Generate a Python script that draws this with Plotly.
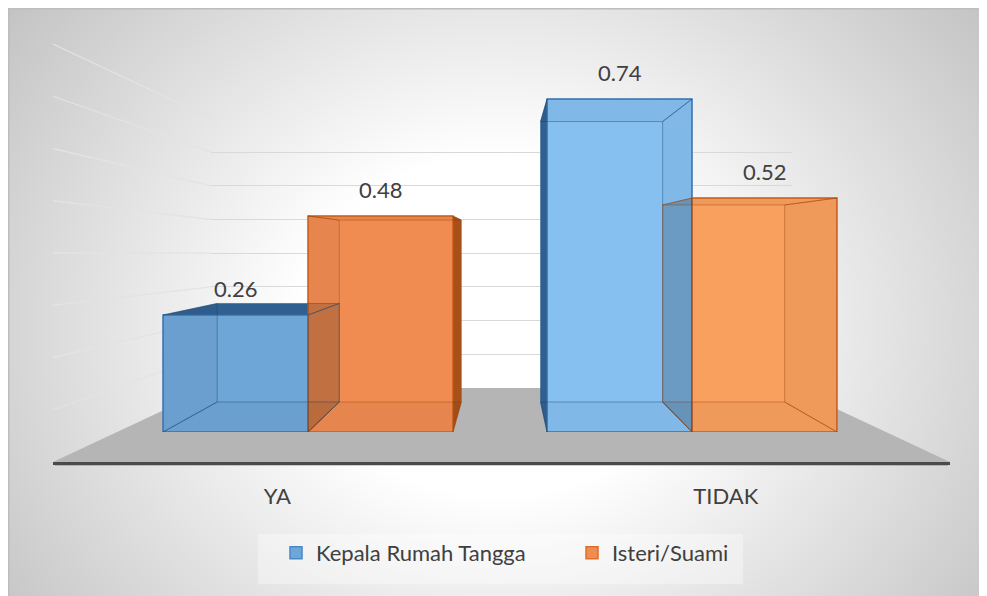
import base64
import plotly.graph_objects as go

# ---------------- data ----------------
categories = ["YA", "TIDAK"]
series_names = ["Kepala Rumah Tangga", "Isteri/Suami"]
kepala_values = [0.26, 0.74]
isteri_values = [0.48, 0.52]
value_labels_kepala = ["0.26", "0.74"]
value_labels_isteri = ["0.48", "0.52"]
grid_values = [0.1, 0.2, 0.3, 0.4, 0.5, 0.6, 0.7, 0.8]

# ---------------- styling / layout constants ----------------
W, H = 987, 596
OFF = 8  # page offset of the figure inside the browser window
FONT = "Lato"
FS = 22
TXT = "#404040"
BAR_GAP = 0.245
BAR_W = (1 - BAR_GAP) / 2

blue_face = ["#6FA6D8", "#86C0F1"]
orange_face = ["#F08C52", "#F9A05F"]
blue_line = "#4A88C8"
orange_line = "#E06E28"
blue_side = "#3A73AE"
orange_side = "#C8601E"
blue_edge = "rgba(31,78,121,0.45)"
orange_edge = "rgba(165,72,12,0.45)"


def px(p):
    return (p - OFF) / W


def py(p):
    return 1 - (p - OFF) / H


# front plane of the bars (window pixels): x 116..884, y 72..432
FX0, FX1, FY_TOP, FY_BOT = 116, 884, 72, 432
Y_MAX = 0.8
# vanishing point (window pixels) and depth ratio of the back face
VPX_PX, VPY_PX, K = 506, 242, 0.842
vp_x = -0.5 + (VPX_PX - FX0) / ((FX1 - FX0) / 2.0)
vp_v = (FY_BOT - VPY_PX) / ((FY_BOT - FY_TOP) / Y_MAX)

# back wall
WX0, WX1, WY_BOT = 211, 792, 388
WALL_SCALE = 337.0
WY_TOP = WY_BOT - Y_MAX * WALL_SCALE
# floor front
FLX0, FLX1, FLY = 53, 950, 462

fig = go.Figure()

# dummy traces so every subplot is created
fig.add_trace(go.Scatter(x=[None], y=[None], xaxis="x", yaxis="y",
                         showlegend=False, hoverinfo="skip"))

fig.add_trace(go.Bar(
    x=categories, y=kepala_values, name=series_names[0],
    xaxis="x2", yaxis="y2",
    marker=dict(color=blue_face, line=dict(color=blue_line, width=1.5)),
    hoverinfo="skip",
))
fig.add_trace(go.Bar(
    x=categories, y=isteri_values, name=series_names[1],
    xaxis="x2", yaxis="y2",
    marker=dict(color=orange_face, line=dict(color=orange_line, width=1.5)),
    hoverinfo="skip",
))

fig.add_trace(go.Scatter(x=categories, y=[0, 0], xaxis="x3", yaxis="y3",
                         mode="none", showlegend=False, hoverinfo="skip"))

# ---------------- 3D box faces derived from the data ----------------


def back(x, v):
    return vp_x + K * (x - vp_x), vp_v + K * (v - vp_v)


def quad_path(pts):
    return "M " + " L ".join(f"{x:.5f},{y:.5f}" for x, y in pts) + " Z"


def box_faces(i, side, v):
    xl = i - BAR_W if side == 0 else i
    xr = xl + BAR_W
    bl0, br0 = back(xl, 0), back(xr, 0)
    blt, brt = back(xl, v), back(xr, v)
    return [
        ([(xl, 0), (xr, 0), br0, bl0], False),        # bottom
        ([(xl, v), (xr, v), brt, blt], v < vp_v),      # top
        ([(xl, 0), (xl, v), blt, bl0], xl > vp_x),     # left
        ([(xr, 0), (xr, v), brt, br0], xr < vp_x),     # right
    ]


below_faces, above_faces = [], []
for i in range(len(categories)):
    for side, v, scol, ecol in ((0, kepala_values[i], blue_side, blue_edge),
                                (1, isteri_values[i], orange_side, orange_edge)):
        for pts, facing in box_faces(i, side, v):
            path = quad_path(pts)
            if facing:
                below_faces.append(dict(type="path", xref="x2", yref="y2", layer="below",
                                        path=path, fillcolor=scol, line=dict(width=0)))
            above_faces.append((facing, dict(
                type="path", xref="x2", yref="y2", layer="above", path=path,
                fillcolor="rgba(0,0,0,0.16)" if facing else "rgba(0,0,0,0.04)",
                line=dict(color=ecol, width=1))))
above_faces.sort(key=lambda f: f[0])
above_faces = [f[1] for f in above_faces]

# ---------------- chart furniture ----------------
furniture = []
# chart border
furniture.append(dict(type="rect", xref="paper", yref="paper", layer="below",
                      x0=px(8.7), x1=px(W + 20), y0=py(H + 20), y1=py(8.7),
                      line=dict(color="#bdbdbd", width=1.5), fillcolor="rgba(0,0,0,0)"))
# faint legend panel
furniture.append(dict(type="rect", xref="paper", yref="paper", layer="below",
                      x0=px(258), x1=px(743), y0=py(584), y1=py(534),
                      line=dict(width=0), fillcolor="rgba(255,255,255,0.35)"))
# left side-wall grid lines
for g in grid_values:
    furniture.append(dict(type="line", xref="paper", yref="paper", layer="below",
                          x0=px(FLX0), y0=py(FLY - g * 522.5),
                          x1=px(WX0), y1=py(WY_BOT - g * WALL_SCALE),
                          line=dict(color="#e3e3e3", width=1.3)))
# floor
furniture.append(dict(type="path", xref="paper", yref="paper", layer="below",
                      path=(f"M {px(FLX0)},{py(FLY)} L {px(FLX1)},{py(FLY)} "
                            f"L {px(WX1)},{py(WY_BOT)} L {px(WX0)},{py(WY_BOT)} Z"),
                      fillcolor="#b5b5b5", line=dict(width=0)))
# shadow under the floor front edge
furniture.append(dict(type="line", xref="paper", yref="paper", layer="below",
                      x0=px(FLX0 + 2), x1=px(FLX1 - 2), y0=py(FLY + 2.5), y1=py(FLY + 2.5),
                      line=dict(color="rgba(0,0,0,0.18)", width=3)))

fig.update_layout(shapes=furniture + below_faces + above_faces)

# ---------------- data labels ----------------
annotations = []
for i in range(len(categories)):
    for off, vals, labs in ((-BAR_W / 2, kepala_values, value_labels_kepala),
                            (BAR_W / 2, isteri_values, value_labels_isteri)):
        annotations.append(dict(x=i + off, y=vals[i], xref="x2", yref="y2",
                                text=labs[i], showarrow=False,
                                yanchor="bottom", yshift=11,
                                font=dict(family=FONT, size=FS, color=TXT)))

# ---------------- background gradient ----------------
svg = (f'<svg xmlns="http://www.w3.org/2000/svg" width="{W}" height="{H}" '
       f'viewBox="0 0 {W} {H}" preserveAspectRatio="none"><defs>'
       f'<radialGradient id="g" gradientUnits="userSpaceOnUse" cx="490" cy="318" r="616" '
       f'gradientTransform="translate(490 318) scale(1 0.857) translate(-490 -318)">'
       f'<stop offset="0" stop-color="#ffffff"/><stop offset="0.32" stop-color="#ffffff"/>'
       f'<stop offset="1" stop-color="#c3c3c3"/></radialGradient></defs>'
       f'<rect width="{W}" height="{H}" fill="url(#g)"/></svg>')
bg_uri = "data:image/svg+xml;base64," + base64.b64encode(svg.encode()).decode()

hidden = dict(showgrid=False, zeroline=False, showline=False, showticklabels=False,
              ticks="", fixedrange=True)

fig.update_layout(
    width=W, height=H,
    margin=dict(l=0, r=0, t=0, b=0),
    paper_bgcolor="#ffffff",
    plot_bgcolor="rgba(0,0,0,0)",
    font=dict(family=FONT, color=TXT, size=FS),
    barmode="group", bargap=BAR_GAP, bargroupgap=0,
    images=[dict(source=bg_uri, xref="paper", yref="paper",
                 x=0, y=1, sizex=1, sizey=1,
                 xanchor="left", yanchor="top", sizing="stretch", layer="below")],
    # back wall
    xaxis=dict(domain=[px(WX0), px(WX1)], range=[0, 1], anchor="y", **hidden),
    yaxis=dict(domain=[py(WY_BOT), py(WY_TOP)], range=[0, Y_MAX + 0.0005], anchor="x",
               showgrid=True, gridcolor="#d9d9d9", gridwidth=1.3,
               tickmode="array", tickvals=grid_values,
               zeroline=False, showline=False, showticklabels=False, ticks="", fixedrange=True),
    # bar front plane
    xaxis2=dict(domain=[px(FX0), px(FX1)], type="category", range=[-0.5, 1.5],
                anchor="y2", **hidden),
    yaxis2=dict(domain=[py(FY_BOT), py(FY_TOP)], range=[0, Y_MAX], anchor="x2", **hidden),
    # floor front edge with category labels
    xaxis3=dict(domain=[px(FLX0), px(FLX1)], type="category", range=[-0.5, 1.5],
                anchor="y3", showline=True, linecolor="#4a4a4a", linewidth=3,
                showgrid=False, zeroline=False, ticks="outside", ticklen=13,
                tickcolor="rgba(0,0,0,0)", tickfont=dict(family=FONT, size=FS, color=TXT),
                fixedrange=True),
    yaxis3=dict(domain=[py(FLY), py(FLY - 20)], range=[0, 1], anchor="x3", **hidden),
    annotations=annotations,
    legend=dict(orientation="h", x=px(276), xanchor="left", y=py(553), yanchor="middle",
                bgcolor="rgba(0,0,0,0)", font=dict(family=FONT, size=FS, color=TXT),
                itemwidth=30, entrywidth=251, entrywidthmode="pixels",
                traceorder="normal"),
    showlegend=True,
)

fig.write_html("out.html")
